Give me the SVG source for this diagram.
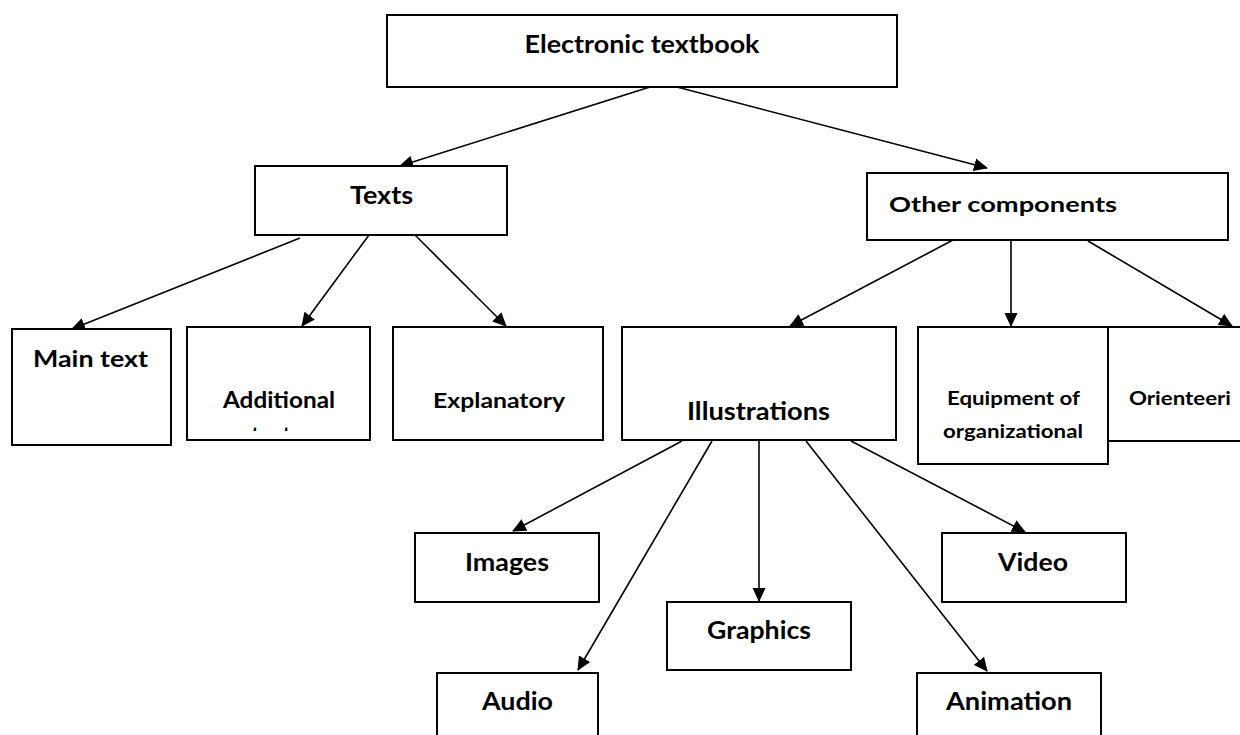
<svg xmlns="http://www.w3.org/2000/svg" width="1240" height="735" viewBox="0 0 1240 735">
<style>
.box{fill:#fff;stroke:#000;stroke-width:2}
.lbl{font-family:Lato,"Open Sans",sans-serif;font-weight:700;fill:#000;text-anchor:middle;lengthAdjust:spacingAndGlyphs}
.c{stroke:#000;stroke-width:1.6;fill:none;marker-end:url(#ah)}
</style>
<defs>
<marker id="ah" viewBox="0 0 14 14" refX="13" refY="7" markerWidth="14" markerHeight="14" markerUnits="userSpaceOnUse" orient="auto">
<path d="M0,0.5 L14,7 L0,13.5 z" fill="#000"/>
</marker>
<clipPath id="clipAdd"><rect x="188" y="328" width="181" height="103"/></clipPath>
</defs>
<rect width="1240" height="735" fill="#fff"/>
<g id="connectors">
<line class="c" x1="650" y1="87" x2="400" y2="166"/>
<line class="c" x1="677" y1="87" x2="987" y2="168"/>
<line class="c" x1="300" y1="238" x2="72" y2="329"/>
<line class="c" x1="369" y1="235" x2="302" y2="326"/>
<line class="c" x1="415" y1="235" x2="506" y2="326"/>
<line class="c" x1="953" y1="240" x2="790" y2="326"/>
<line class="c" x1="1011" y1="240" x2="1011" y2="326"/>
<line class="c" x1="1088" y1="241" x2="1232" y2="326"/>
<line class="c" x1="682" y1="441" x2="513" y2="531"/>
<line class="c" x1="712" y1="441" x2="578" y2="670"/>
<line class="c" x1="759" y1="441" x2="759" y2="601"/>
<line class="c" x1="806" y1="441" x2="987" y2="671"/>
<line class="c" x1="851" y1="441" x2="1025" y2="532"/>
</g>
<g id="n-electronic">
<rect class="box" x="387" y="15" width="510" height="72"/>
<text class="lbl" x="642" y="53" font-size="24" textLength="235" lengthAdjust="spacingAndGlyphs">Electronic textbook</text>
</g>
<g id="n-texts">
<rect class="box" x="255" y="166" width="252" height="69"/>
<text class="lbl" x="381.5" y="204" font-size="24" textLength="63" lengthAdjust="spacingAndGlyphs">Texts</text>
</g>
<g id="n-other">
<rect class="box" x="867" y="173" width="361" height="67"/>
<text class="lbl" x="1003" y="212" font-size="21" textLength="228" lengthAdjust="spacingAndGlyphs">Other components</text>
</g>
<g id="n-main">
<rect class="box" x="12" y="329" width="159" height="116"/>
<text class="lbl" x="90.5" y="367" font-size="22" textLength="115" lengthAdjust="spacingAndGlyphs">Main text</text>
</g>
<g id="n-additional">
<rect class="box" x="187" y="327" width="183" height="113"/>
<text class="lbl" x="279" y="408" font-size="22" textLength="112" lengthAdjust="spacingAndGlyphs">Additional</text>
<text class="lbl" x="271" y="443" font-size="22" clip-path="url(#clipAdd)">text</text>
</g>
<g id="n-explanatory">
<rect class="box" x="393" y="327" width="210" height="113"/>
<text class="lbl" x="499" y="408" font-size="21" textLength="132" lengthAdjust="spacingAndGlyphs">Explanatory</text>
</g>
<g id="n-illustrations">
<rect class="box" x="622" y="327" width="274" height="113"/>
<text class="lbl" x="758.5" y="420" font-size="24" textLength="143" lengthAdjust="spacingAndGlyphs">Illustrations</text>
</g>
<g id="n-orienteeri">
<rect class="box" x="1107" y="327" width="150" height="114"/>
<text class="lbl" x="1180" y="405" font-size="18" textLength="102" lengthAdjust="spacingAndGlyphs">Orienteeri</text>
</g>
<g id="n-equipment">
<rect class="box" x="918" y="327" width="190" height="137"/>
<text class="lbl" x="1013.5" y="405" font-size="18" textLength="133" lengthAdjust="spacingAndGlyphs">Equipment of</text>
<text class="lbl" x="1013" y="438" font-size="18" textLength="140" lengthAdjust="spacingAndGlyphs">organizational</text>
</g>
<g id="n-images">
<rect class="box" x="415" y="533" width="184" height="69"/>
<text class="lbl" x="507" y="571" font-size="25" textLength="84" lengthAdjust="spacingAndGlyphs">Images</text>
</g>
<g id="n-video">
<rect class="box" x="942" y="533" width="184" height="69"/>
<text class="lbl" x="1033" y="571" font-size="25" textLength="70" lengthAdjust="spacingAndGlyphs">Video</text>
</g>
<g id="n-graphics">
<rect class="box" x="667" y="602" width="184" height="68"/>
<text class="lbl" x="759" y="639" font-size="24" textLength="104" lengthAdjust="spacingAndGlyphs">Graphics</text>
</g>
<g id="n-audio">
<rect class="box" x="437" y="673" width="161" height="80"/>
<text class="lbl" x="517.5" y="710" font-size="24" textLength="71" lengthAdjust="spacingAndGlyphs">Audio</text>
</g>
<g id="n-animation">
<rect class="box" x="917" y="673" width="184" height="80"/>
<text class="lbl" x="1009" y="710" font-size="24" textLength="126" lengthAdjust="spacingAndGlyphs">Animation</text>
</g>
</svg>
